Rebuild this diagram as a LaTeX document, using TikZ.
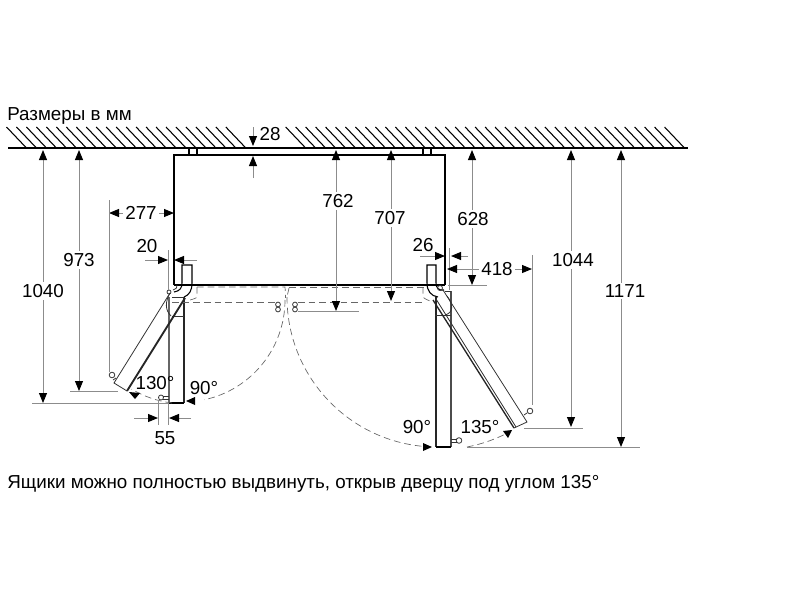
\documentclass[tikz,border=0pt]{standalone}
\usepackage{fontspec}
\setmainfont{Liberation Sans}
\usetikzlibrary{arrows.meta}

\tikzset{
  dimline/.style={draw=black!45,line width=0.75pt},
  dimtip/.style={dimline,-{Triangle[black,length=7.5pt,width=6pt]}},
  dimboth/.style={dimline,{Triangle[black,length=7.5pt,width=6pt]}-{Triangle[black,length=7.5pt,width=6pt]}},
  dimlabel/.style={fill=white,inner sep=1.5pt,font=\fontsize{14.1}{16}\selectfont},
  doorline/.style={line width=0.6pt,black!80},
  thickline/.style={line width=1.4pt,black!85},
  swing/.style={line width=0.5pt,black!60,dash pattern=on 5pt off 3pt}
}

\begin{document}
\begin{tikzpicture}[x=0.75pt,y=-0.75pt]

\useasboundingbox (0,0) rectangle (800,600);

%wall

\draw[line width=1.5pt] (8,148) -- (688,148);
\foreach \k in {0,...,22,28,29,...,66} \draw[line width=0.8pt] (6.5+9.97*\k,127) -- +(20,21);

%body

\draw[line width=0.85pt] (174,285) -- (174,155) -- (445,155) -- (445,285);
\draw[line width=0.8pt] (189,148) rectangle (197,155); %left bracket
\draw[line width=0.8pt] (423,148) rectangle (431,155); %right bracket
\draw[line width=1.1pt] (174,285) -- (445,285); %front edge

%left handle + hinge

\draw[line width=0.8pt] (174,292) .. controls (180,291) and (182,288) .. (182,283) -- (182,265) -- (192,265) -- (192,283) .. controls (192,291) and (189,295) .. (184,297);
\draw[doorline] (177,285) .. controls (177,288) .. (173,290);

%left door at 90

\draw[black!60,line width=0.8pt] (169,297) -- (169,403);
\draw[thickline] (184,297) -- (184,403);
\draw[line width=0.8pt] (169,403) -- (184,403);
\draw[doorline] (172,297) -- (184,297);
\draw[doorline] (172,316) -- (184,316);
\draw[doorline] (163,396) -- (169,396) (163,399) -- (169,399);
\draw[doorline] (161,397.5) circle (2.5);

%left door at 130

\draw[thickline] (185,298) -- (127,391);
\draw[doorline] (170,293) -- (114,383) -- (127,391);
\draw[doorline] (116,378) -- (113,380);
\draw[doorline] (112,375) circle (2.8);
\draw[doorline] (170,293) .. controls (165,302) and (165,310) .. (171,316);
\draw[doorline] (169,292) circle (2);

%right handle + hinge

\draw[line width=0.8pt] (444,290) .. controls (439,291) and (436,288) .. (436,283) -- (436,265) -- (427,265) -- (427,283) .. controls (427,291) and (431,296) .. (438,297);
\draw[doorline] (440,288) circle (2.5);

%right door at 90

\draw[thickline] (436,297) -- (436,447);
\draw[black!70,line width=0.8pt] (451,291) -- (451,447);
\draw[line width=0.8pt] (436,447) -- (451,447);
\draw[doorline] (445,291) -- (451,291);
\draw[doorline] (435,315) -- (451,315);
\draw[doorline] (451,439) -- (457,439) (451,442) -- (457,442);
\draw[doorline] (459,440.5) circle (2.8);

%right door at 135

\draw[line width=1pt,black!85] (433,300) -- (514,428);
\draw[doorline] (436,299) -- (516,427);
\draw[doorline] (443,290) -- (527,422) -- (514,428);
\draw[doorline] (524,415) -- (527,413);
\draw[doorline] (530,411) circle (2.8);
\draw[doorline] (447,296) .. controls (454,305) and (453,313) .. (445,315);

%swing contours

\draw[swing] (197,287) -- (285,287) arc (-6:0:103);
\draw[swing] (172,302) -- (277,302);
\draw[swing] (289,287) -- (425,287);
\draw[swing] (298,302) -- (423,302);
\draw[swing] (197,287) -- (197,295) .. controls (197,298) .. (190,300);
\draw[swing] (423,287) -- (423,294) .. controls (423,298) .. (430,301);
\draw[swing] (285,300) arc (0:78:102);
\draw[swing] (172,403) arc (97:121:103);
\draw[swing] (287,297) arc (180:93:150);
\draw[swing] (467,447) arc (79:62:153);
\draw[swing] (289,288) -- (287,297);

%swing arrowheads

\fill (186,401) -- (195,397) -- (195,405) -- cycle;
\fill (129,392) -- (140,393) -- (135,399) -- cycle;
\fill (432,447) -- (423,443) -- (423,451) -- cycle;
\fill (512,430) -- (503,431) -- (508,438) -- cycle;

%stops

\foreach \s in {278,295}
{
  \draw[doorline] (\s,304.5) circle (2.4);
  \draw[doorline] (\s,309.5) circle (2.4);
}

%labels, dimensions

\node[anchor=west,inner sep=0,font=\fontsize{14.1}{16}\selectfont] (titletxt) at (7,116) {Размеры в мм};
\node[anchor=west,inner sep=0,font=\fontsize{14.1}{16}\selectfont] (notetxt) at (7,484) {Ящики можно полностью выдвинуть, открыв дверцу под углом 135°};

%verticals

\draw[dimboth] (43,150) -- (43,403);
\draw[dimline] (32,403) -- (169,403);
\node[dimlabel] (d1040) at (43,291) {1040};

\draw[dimboth] (79,150) -- (79,391);
\draw[dimline] (70,391) -- (118,391);
\node[dimlabel] (d973) at (79,260) {973};

\draw[dimboth] (336,150) -- (336,311);
\draw[dimline] (298,311) -- (359,311);
\node[dimlabel] (d762) at (338,201) {762};

\draw[dimboth] (391,150) -- (391,301);
\node[dimlabel] (d707) at (390,218) {707};

\draw[dimboth] (472,150) -- (472,285);
\draw[dimline] (448,285) -- (487,285);
\node[dimlabel] (d628) at (473,219) {628};

\draw[dimboth] (571,150) -- (571,427);
\draw[dimline] (524,428) -- (583,428);
\node[dimlabel] (d1044) at (573,260) {1044};

\draw[dimboth] (621,150) -- (621,447);
\draw[dimline] (467,447) -- (640,447);
\node[dimlabel] (d1171) at (625,291) {1171};

%depth 28

\draw[dimtip] (253,127) -- (253,146);
\draw[dimtip] (253,178) -- (253,156);
\node[dimlabel,fill=none] (d28) at (270,134) {28};

%horizontals

\draw[dimboth] (109,213) -- (174,213);
\draw[dimline] (109,200) -- (109,372);
\node[dimlabel] (d277) at (141,213) {277};

\draw[dimtip] (145,260) -- (168,260);
\draw[dimtip] (197,260) -- (174,260);
\draw[dimline] (168,250) -- (168,290);
\node[dimlabel,fill=none] (d20) at (147,246) {20};

\draw[dimtip] (420,256) -- (445,256);
\draw[dimtip] (468,256) -- (451,256);
\draw[dimline] (449,248) -- (449,290);
\node[dimlabel,fill=none] (d26) at (423,245) {26};

\draw[dimboth] (447,269) -- (532,269);
\draw[dimline] (532,255) -- (532,405);
\node[dimlabel] (d418) at (497,269) {418};

\draw[dimtip] (134,418) -- (158,418);
\draw[dimtip] (191,418) -- (169,418);
\draw[dimline] (158,400) -- (158,425);
\draw[dimline] (168,403) -- (168,425);
\node[dimlabel,fill=none] (d55) at (165,438) {55};

%angles

\node[dimlabel,fill=none] (a130) at (155,383) {130°};
\node[dimlabel,fill=none] (a90l) at (204,388) {90°};
\node[dimlabel,fill=none] (a90r) at (417,427) {90°};
\node[dimlabel,fill=none] (a135) at (480,427) {135°};

\end{tikzpicture}
\end{document}
